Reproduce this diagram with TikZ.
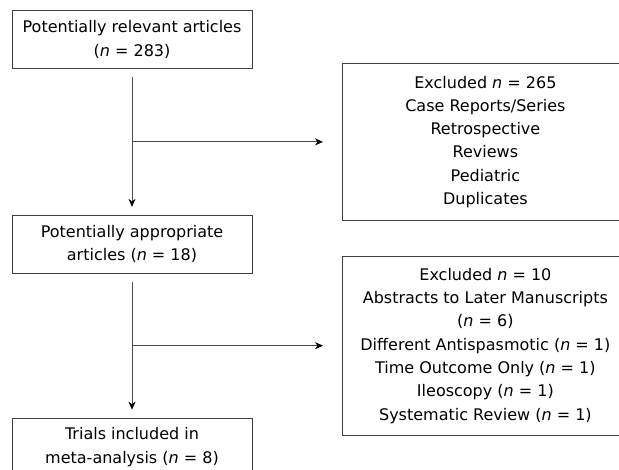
\documentclass[tikz,border=0pt]{standalone}
\usepackage{fontspec}
\setmainfont{DejaVu Sans}
\usepackage{tikz}
\usetikzlibrary{positioning,arrows.meta,calc}
\tikzstyle{stage}=[rectangle, draw=black!75, line width=0.8pt, text centered, align=center,
        minimum width=240pt, minimum height=58pt, inner sep=2pt, font=\fontsize{16}{23.3}\selectfont]
\tikzstyle{excluded}=[stage, minimum width=286pt]
\tikzstyle{myarrow}=[-{Stealth[length=8pt,width=7pt,inset=2.5pt,black]}, line width=0.9pt, black!70]

\begin{document}
\begin{tikzpicture}[x=1pt, y=-1pt, node distance=146pt]
    \useasboundingbox (0,0) rectangle (619,470);
    \node (Relevant) [stage] at (132,39.5)
        {Potentially relevant articles\\(\textit{n} = 283)};
    \node (Appropriate) [stage, below=146pt of Relevant]
        {Potentially appropriate\\articles (\textit{n} = 18)};
    \node (Included) [stage, below=144pt of Appropriate]
        {Trials included in\\meta-analysis (\textit{n} = 8)};
    \coordinate (split1) at ($(Relevant.south)!0.5!(Appropriate.north)$);
    \coordinate (split2) at ($(Appropriate.south)!0.5!(Included.north)$);
    \node (ExclFirst) [excluded, minimum height=157pt, right=210pt of split1]
        {
            Excluded \textit{n} = 265\\
            Case Reports/Series\\
            Retrospective\\
            Reviews\\
            Pediatric\\
            Duplicates
        };
    \node (ExclSecond) [excluded, minimum height=179pt, right=210pt of split2]
        {
            Excluded \textit{n} = 10\\
            Abstracts to Later Manuscripts\\
            (\textit{n} = 6)\\
            Different Antispasmotic (\textit{n} = 1)\\
            Time Outcome Only (\textit{n} = 1)\\
            Ileoscopy (\textit{n} = 1)\\
            Systematic Review (\textit{n} = 1)
        };
    \draw[myarrow, shorten <=8pt, shorten >=8pt] (Relevant) -- (Appropriate);
    \draw[myarrow, shorten <=8pt, shorten >=8pt] (Appropriate) -- (Included);
    \draw[myarrow, shorten >=19pt] (split1) -- (ExclFirst);
    \draw[myarrow, shorten >=19pt] (split2) -- (ExclSecond);
\end{tikzpicture}
\end{document}
